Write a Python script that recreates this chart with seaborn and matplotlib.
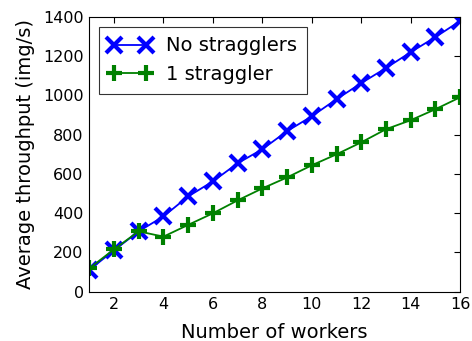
import matplotlib
matplotlib.use("Agg")
import matplotlib.pyplot as plt
import seaborn as sns
import pandas as pd

workers = list(range(1, 17))
no_stragglers = [110, 210, 307, 383, 485, 562, 654, 726, 818, 894, 981, 1063, 1140, 1221, 1298, 1380]
one_straggler = [118, 215, 307, 280, 340, 399, 465, 526, 582, 644, 700, 761, 828, 874, 930, 991]
series_names = ["No stragglers", "1 straggler"]

sns.set_style("white")
plt.rcParams["font.family"] = ["DejaVu Sans"]
plt.rcParams["text.color"] = "black"
plt.rcParams["axes.labelcolor"] = "black"
plt.rcParams["xtick.color"] = "black"
plt.rcParams["ytick.color"] = "black"

fig, ax = plt.subplots(figsize=(4.72, 3.41), dpi=100)
fig.subplots_adjust(left=0.189, right=0.975, top=0.95, bottom=0.145)

df = pd.DataFrame({
    "workers": workers * 2,
    "throughput": no_stragglers + one_straggler,
    "series": [series_names[0]] * len(workers) + [series_names[1]] * len(workers),
})

styles = {series_names[0]: ("blue", "x"), series_names[1]: ("green", "+")}
for name in series_names:
    color, marker = styles[name]
    sns.lineplot(data=df[df["series"] == name], x="workers", y="throughput", ax=ax,
                 color=color, marker=marker, markersize=11, markeredgewidth=3,
                 markeredgecolor=color, linewidth=1.3, label=name)

ax.set_xlim(1, 16)
ax.set_ylim(0, 1400)
ax.set_xticks(range(2, 17, 2))
ax.set_yticks(range(0, 1401, 200))
ax.tick_params(direction="in", top=True, right=True, length=4, width=0.8,
               labelsize=11.5, colors="black", pad=4)
for s in ax.spines.values():
    s.set_color("black")
    s.set_linewidth(0.8)
ax.set_xlabel("Number of workers", fontsize=14, labelpad=8)
ax.set_ylabel("Average throughput (img/s)", fontsize=14, labelpad=6)

leg = ax.legend(loc="upper left", fontsize=14, frameon=True, fancybox=False,
                borderaxespad=0.5, handlelength=2.2, handletextpad=0.75,
                labelspacing=0.5, borderpad=0.5, numpoints=2)
leg.get_frame().set_edgecolor("black")
leg.get_frame().set_linewidth(0.8)
for t in leg.get_texts():
    t.set_color("black")

fig.savefig("out.png", dpi=100)
